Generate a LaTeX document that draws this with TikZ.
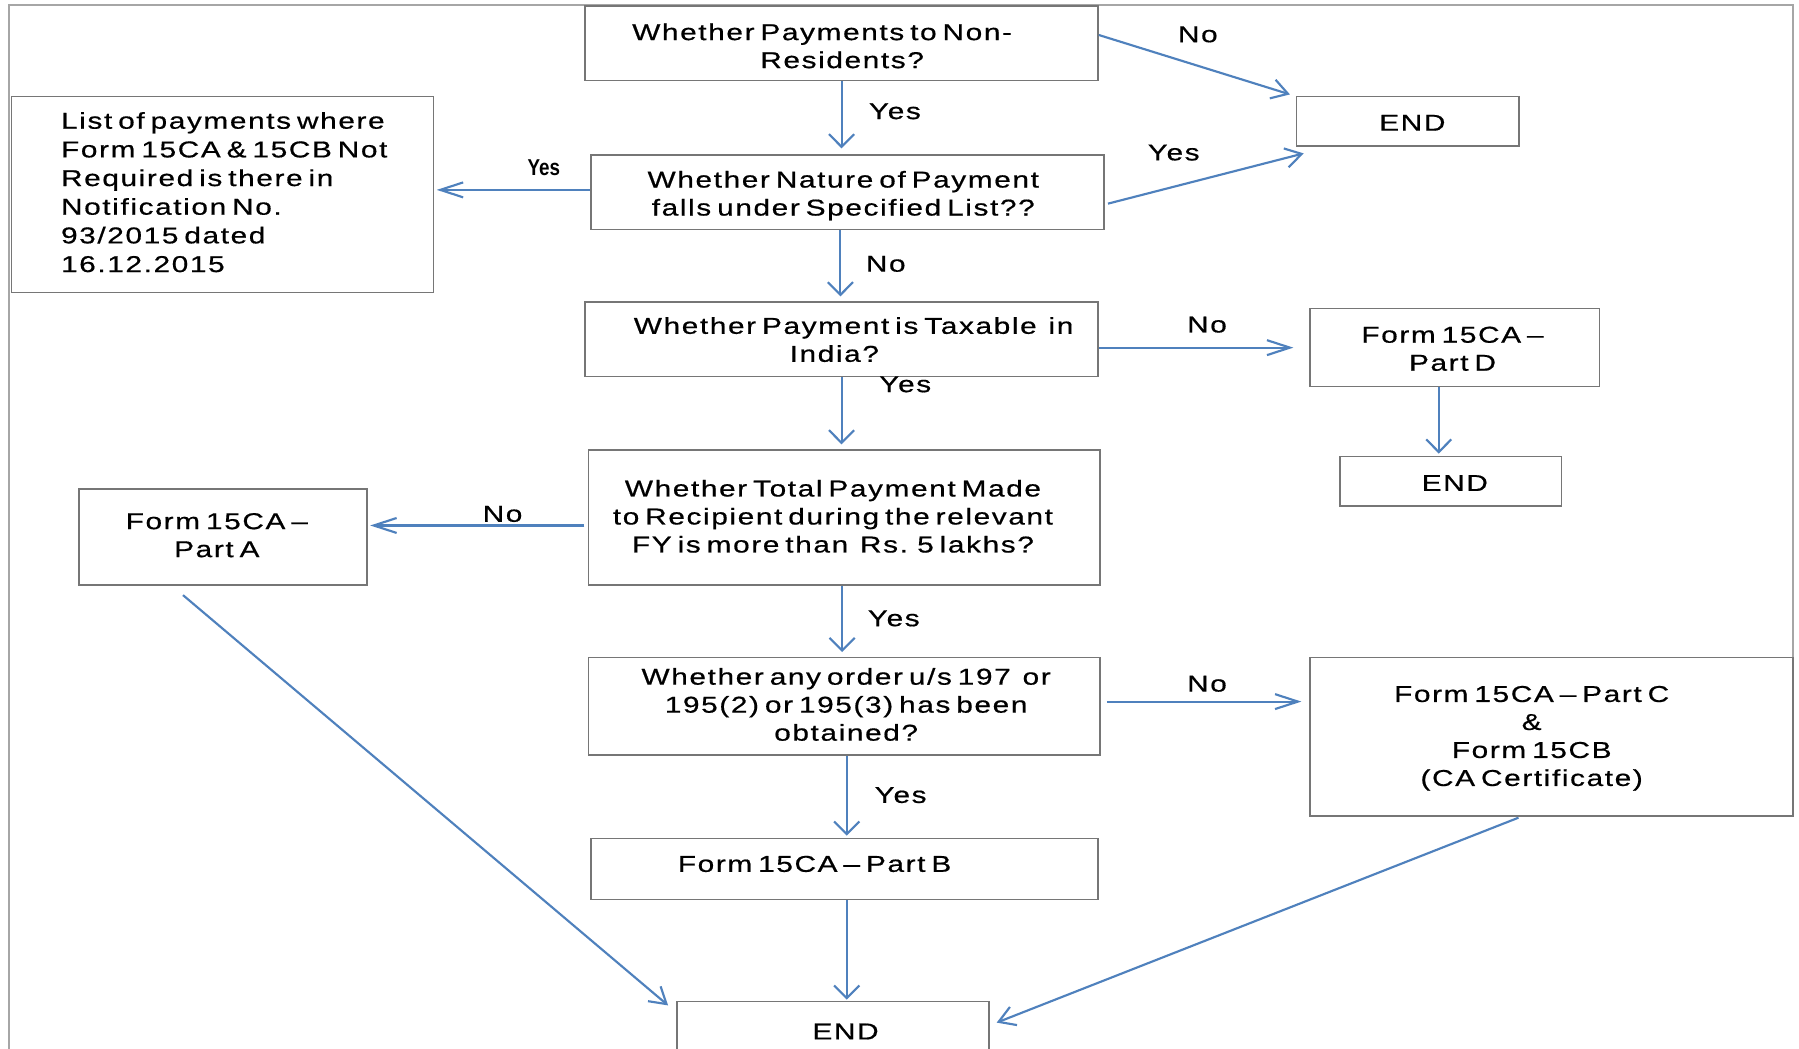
\documentclass[tikz,border=0pt]{standalone}
\usepackage{fontspec}
\setmainfont{Liberation Sans}[FakeStretch=1.3,LetterSpace=7,WordSpace=0.6,FakeBold=0.6]
\newfontfamily\yesfont{Liberation Sans}[FakeStretch=0.82]
\usetikzlibrary{arrows.meta,fit,calc}
\definecolor{arrblue}{HTML}{4F81BD}
\definecolor{boxgray}{HTML}{767676}
\definecolor{framegray}{HTML}{A6A6A6}
\tikzset{
  box/.style={draw=boxgray, line width=1.2pt, inner sep=0pt, rectangle},
  txt/.style={inner sep=0pt, align=center, font=\fontsize{17.2pt}{21pt}\selectfont},
  lbl/.style={inner sep=0pt, font=\fontsize{17.2pt}{21pt}\selectfont},
  con/.style={draw=arrblue, line width=1.6pt},
  varr/.style={con, -{Straight Barb[length=9.5pt, width=18.9pt]}},
  harr/.style={con, -{Straight Barb[length=17.2pt, width=11.2pt]}},
  darr/.style={con, -{Straight Barb[length=12pt, width=14.6pt]}},
}
\begin{document}
\begin{tikzpicture}[x=0.8605pt, y=-0.8605pt]
\useasboundingbox (0,0) rectangle (1568,914);
\clip (0,0) rectangle (1568,914);
\fill[white] (0,0) rectangle (1568,914);
% outer frame
\draw[framegray, line width=1.4pt] (8,920) -- (8,4) -- (1563,4) -- (1563,573);

% boxes
\node[box, fit={(510,5) (957,70)}] (b1) {};
\node[box, fit={(1130,84) (1324,127)}] (e1) {};
\node[box, fit={(10,84) (378,255)}] (lst) {};
\node[box, fit={(515,135) (962,200)}] (b2) {};
\node[box, fit={(510,263) (957,328)}] (b3) {};
\node[box, fit={(1142,269) (1394,337)}] (pd) {};
\node[box, fit={(1168,398) (1361,441)}] (e2) {};
\node[box, fit={(513,392) (959,510)}] (b4) {};
\node[box, fit={(69,426) (320,510)}] (pa) {};
\node[box, fit={(513,573) (959,658)}] (b5) {};
\node[box, fit={(1142,573) (1563,711)}] (pc) {};
\node[box, fit={(515,731) (957,784)}] (pb) {};
\node[box, fit={(590,873) (862,940)}] (e3) {};

% texts
\node[txt] (t1) at (734,40) {Whether Payments to Non-\kern30pt\\Residents?};
\node[txt] (t2) at (735,170.5) {Whether Nature of Payment\\falls under Specified List??};
\node[txt, align=left, anchor=west, font=\fontsize{17.2pt}{21.5pt}\selectfont] (tl) at (53,167.5)
  {List of payments where\\Form 15CA \& 15CB Not\\Required is there in\\Notification No.\\93/2015 dated\\16.12.2015};
\node[txt] (t3) at (744,296) {Whether Payment is Taxable\ \ in\\India?\kern29pt};
\node[txt] (t4) at (726,450) {Whether Total Payment Made\\to Recipient during the relevant\\FY is more than\ \ Rs. 5 lakhs?};
\node[txt] (t5) at (737.5,614) {Whether any order u/s 197\ \ or\\195(2) or 195(3) has been\\obtained?};
\node[txt] (tpd) at (1266,304) {Form 15CA --\\Part D};
\node[txt] (te1) at (1231,107) {END};
\node[txt] (te2) at (1268,421) {END};
\node[txt] (tpa) at (189,466.5) {Form 15CA --\\Part A};
\node[txt] (tpc) at (1335,643.5) {Form 15CA -- Part C\\\&\\Form 15CB\\(CA Certificate)};
\node[txt] (tpb) at (710,753) {Form 15CA -- Part B};
\node[txt] (te3) at (737,899) {END};

% connectors
\draw[varr] (b1.south) -- ($(b1.south |- b2.north)+(0,-5)$);
\draw[darr] ($(b1.east)+(0,-7)$) -- ($(e1.north west)+(-5,-1)$);
\draw[harr] ($(b2.west)+(0,-2)$) -- ($(lst.east |- b2.west)+(2,-2)$);
\draw[darr] ($(b2.east)+(3,10)$) -- ($(e1.south west)+(7,6)$);
\draw[varr] ($(b3.north |- b2.south)+(-1,0)$) -- ($(b3.north)+(-1,-4)$);
\draw[harr] (b3.east |- pd.west) -- ($(pd.west)+(-14,0)$);
\draw[varr] (b3.south) -- ($(b3.south |- b4.north)+(0,-4)$);
\draw[varr] ($(pd.south)+(-14,0)$) -- ($(pd.south |- e2.north)+(-14,-2)$);
\draw[harr] ($(b4.west)+(-3,7)$) -- ($(pa.east |- b4.west)+(2,7)$);
\draw[varr] ($(b4.south)+(-2,0)$) -- ($(b4.south |- b5.north)+(-2,-4)$);
\draw[harr] ($(b5.east)+(5,-4)$) -- ($(pc.west |- b5.east)+(-7,-4)$);
\draw[varr] ($(b5.south)+(2,0)$) -- ($(b5.south |- pb.north)+(2,-2)$);
\draw[varr] ($(pb.south)+(2,0)$) -- ($(pb.south |- e3.north)+(2,-1)$);
\draw[darr] ($(pa.south)+(-35,8)$) -- ($(e3.north west)+(-7,4)$);
\draw[darr] ($(pc.south)+(-29,1)$) -- ($(e3.north east)+(6,19)$);

% labels
\node[lbl] (l1) at (780,97) {Yes};
\node[lbl] (l2) at (1044,30) {No};
\node[lbl, font=\yesfont\bfseries\fontsize{17.2pt}{21pt}\selectfont] (l3) at (474,146) {Yes};
\node[lbl] (l4) at (1023,133) {Yes};
\node[lbl] (l5) at (772,230) {No};
\node[lbl] (l6) at (1052,283) {No};
\node[lbl] (l7) at (789,335) {Yes};
\node[lbl] (l8) at (438,448) {No};
\node[lbl] (l9) at (779,539) {Yes};
\node[lbl] (l10) at (1052,596) {No};
\node[lbl] (l11) at (785,693) {Yes};
\end{tikzpicture}
\end{document}
